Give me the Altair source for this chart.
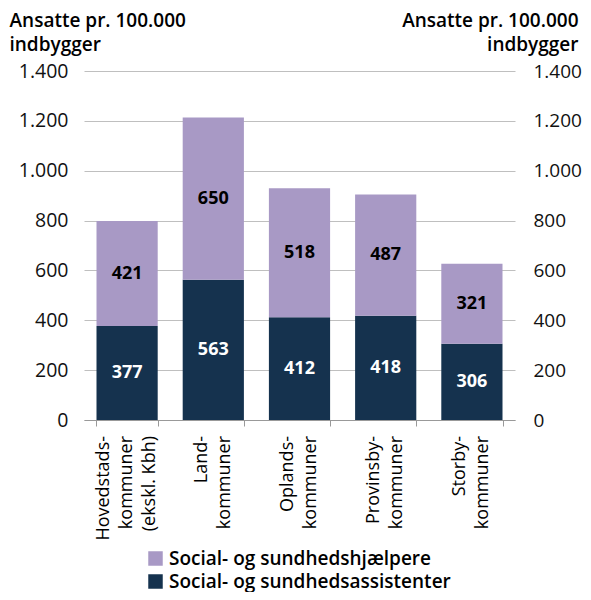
import altair as alt
import pandas as pd

categories = [
    "Hovedstads-\nkommuner\n(ekskl. Kbh)",
    "Land-\nkommuner",
    "Oplands-\nkommuner",
    "Provinsby-\nkommuner",
    "Storby-\nkommuner",
]
assistenter = [377, 563, 412, 418, 306]
hjaelpere = [421, 650, 518, 487, 321]
series = ["Social- og sundhedshjælpere", "Social- og sundhedsassistenter"]
series_colors = ["#a899c5", "#15324e"]
y_ticks = [0, 200, 400, 600, 800, 1000, 1200, 1400]
axis_title = ["Ansatte pr. 100.000", "indbygger"]

rows = []
for c, a, h in zip(categories, assistenter, hjaelpere):
    rows.append({"cat": c, "series": series[1], "value": a, "rank": 0})
    rows.append({"cat": c, "series": series[0], "value": h, "rank": 1})
df = pd.DataFrame(rows)
cat_df = pd.DataFrame({"cat": categories})

FONT = "Open Sans"
LINE_H = 23
num_expr = "replace(format(datum.value, ','), ',', '.')"

x = alt.X(
    "cat:N",
    sort=categories,
    title=None,
    scale=alt.Scale(paddingInner=0.29, paddingOuter=0.145),
    axis=alt.Axis(
        labels=False,
        tickBand="extent",
        tickSize=6,
        domainColor="#999999",
        tickColor="#999999",
    ),
)

yscale = alt.Scale(domain=[0, 1400], nice=False)

bars = alt.Chart(df).mark_bar().encode(
    x=x,
    y=alt.Y(
        "value:Q",
        stack="zero",
        scale=yscale,
        axis=alt.Axis(
            orient="left",
            values=y_ticks,
            grid=True,
            gridColor="#bfbfbf",
            domain=False,
            ticks=False,
            labelExpr=num_expr,
            labelFont=FONT,
            labelFontSize=19.5,
            labelColor="#111111",
            labelPadding=16,
            title=axis_title,
            titleAngle=0,
            titleAlign="left",
            titleBaseline="top",
            titleX=-75,
            titleY=-60,
            titleFont=FONT,
            titleFontSize=19,
            titleFontWeight=600,
            titleLineHeight=24,
            titleColor="#000000",
        ),
    ),
    color=alt.Color(
        "series:N",
        scale=alt.Scale(domain=series, range=series_colors),
        legend=alt.Legend(
            orient="none",
            legendX=62,
            legendY=478,
            direction="vertical",
            title=None,
            symbolType="square",
            symbolSize=210,
            symbolStrokeWidth=0,
            labelFont=FONT,
            labelFontSize=19,
            labelFontWeight=600,
            labelColor="#000000",
            labelLimit=0,
            rowPadding=3,
        ),
    ),
    order=alt.Order("rank:Q"),
)

text = (
    alt.Chart(df)
    .transform_stack(
        stack="value",
        groupby=["cat"],
        as_=["y0", "y1"],
        sort=[alt.SortField("rank", order="ascending")],
    )
    .transform_calculate(mid="(datum.y0 + datum.y1) / 2")
    .mark_text(font=FONT, fontSize=18, fontWeight="bold", baseline="middle")
    .encode(
        x=x,
        y=alt.Y(
            "mid:Q",
            scale=yscale,
            axis=alt.Axis(
                orient="right",
                values=y_ticks,
                grid=False,
                domain=False,
                ticks=False,
                labelExpr=num_expr,
                labelFont=FONT,
                labelFontSize=19,
                labelColor="#111111",
                labelPadding=18,
                title=axis_title,
                titleAngle=0,
                titleAlign="right",
                titleBaseline="top",
                titleX=63,
                titleY=-60,
                titleFont=FONT,
                titleFontSize=19,
                titleFontWeight=600,
                titleLineHeight=24,
                titleColor="#000000",
            ),
        ),
        text=alt.Text("value:Q"),
        color=alt.when(alt.datum.rank == 0)
        .then(alt.value("white"))
        .otherwise(alt.value("black")),
    )
)


# category labels under the axis (multi-line, rotated, block centred on each band)
def cat_label_layer(n_lines):
    return (
        alt.Chart(cat_df)
        .transform_filter(f"length(split(datum.cat, '\\n')) == {n_lines}")
        .mark_text(
            font=FONT,
            fontSize=18,
            angle=270,
            align="right",
            baseline="middle",
            lineBreak="\n",
            lineHeight=LINE_H,
            color="#000000",
            dy=-(n_lines - 1) * LINE_H / 2,
        )
        .encode(x=x, y=alt.value(365), text="cat:N")
    )


chart = (
    alt.layer(bars, text, cat_label_layer(3), cat_label_layer(2))
    .resolve_scale(y="independent")
    .properties(
        width=431,
        height=349,
        padding={"left": 76, "top": 63, "right": 68, "bottom": 172},
        autosize=alt.AutoSizeParams(type="none"),
    )
    .configure_view(stroke=None)
)

chart.save("out.html", embed_options={"renderer": "svg", "actions": False})
